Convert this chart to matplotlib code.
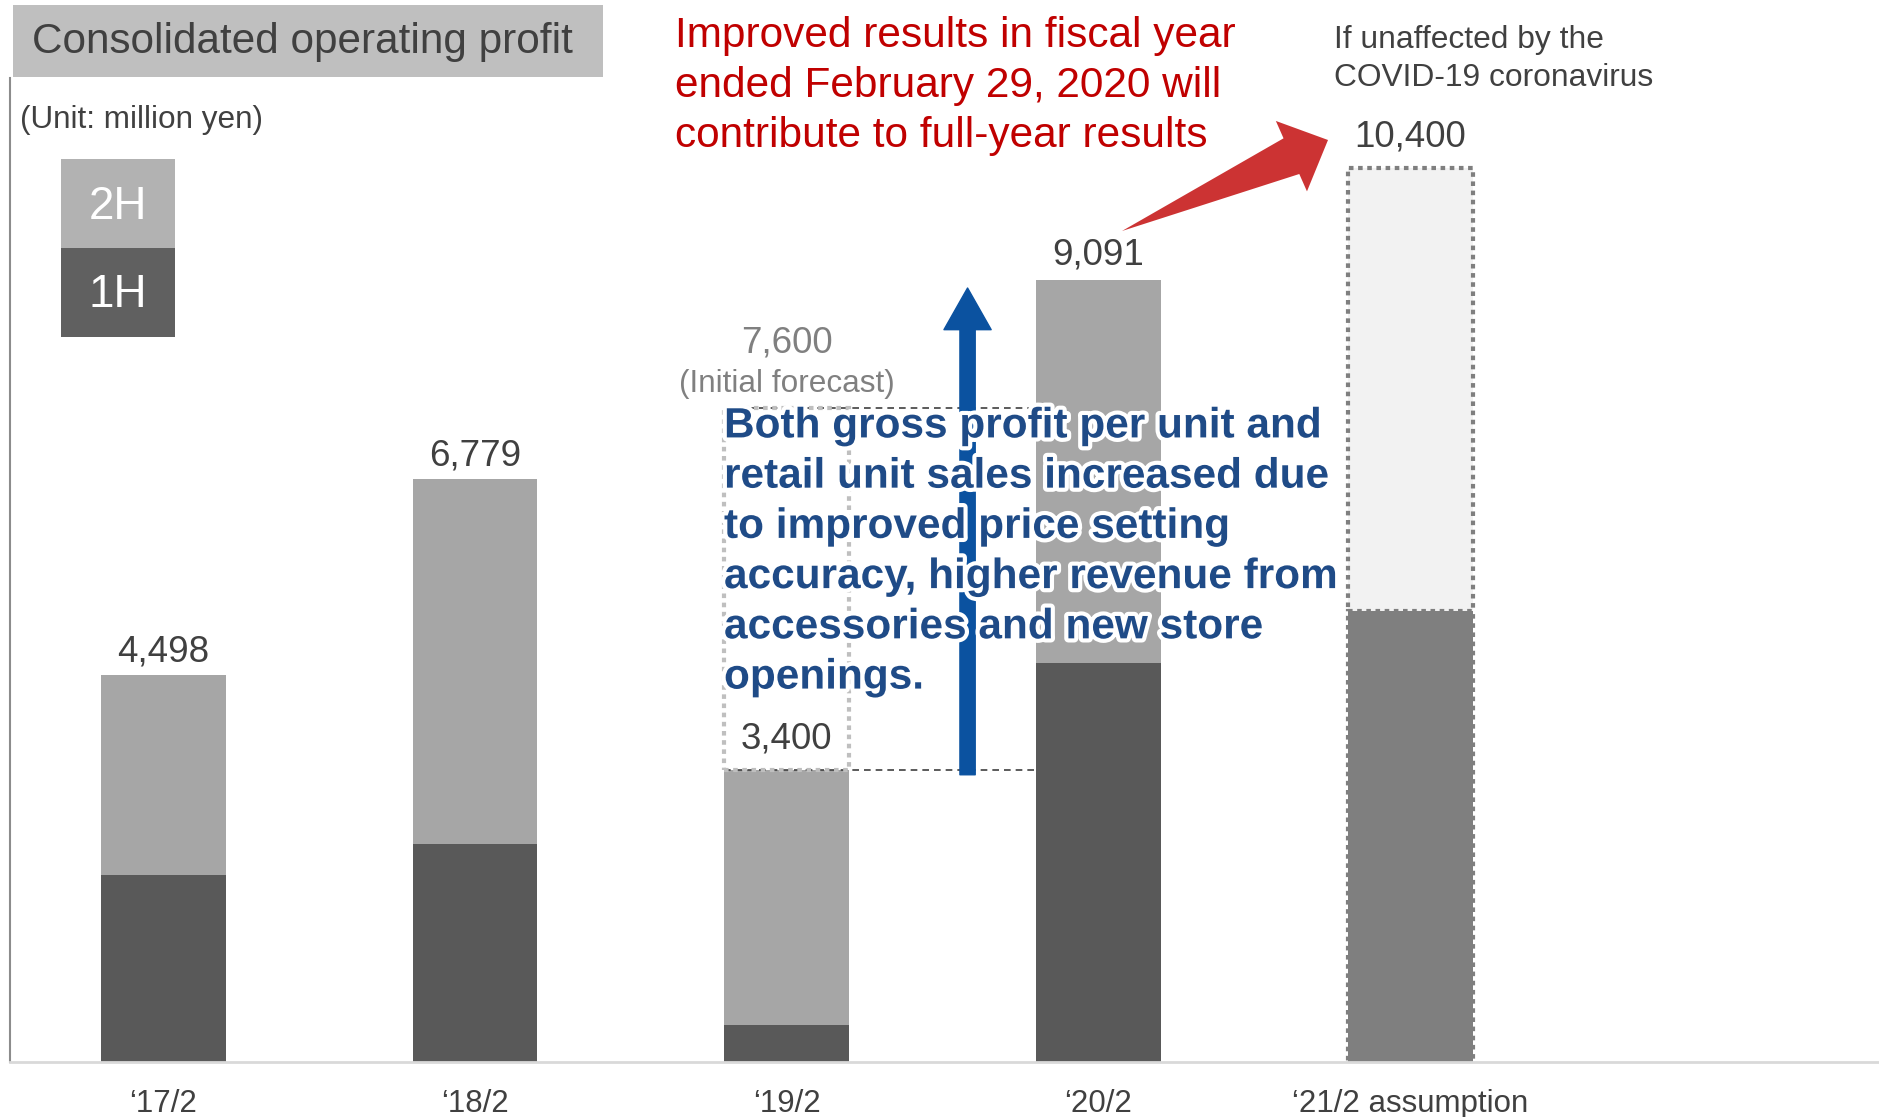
import numpy as np
import matplotlib.pyplot as plt
from matplotlib.patches import Rectangle, Polygon
import matplotlib.patheffects as pe

plt.rcParams['font.family'] = ['Liberation Sans', 'DejaVu Sans']

# consolidated operating profit, million yen
periods = ['\u201817/2', '\u201818/2', '\u201819/2', '\u201820/2', '\u201821/2 assumption']
full_year = [4498, 6779, 3400, 9091, 10400]
first_half = [2170, 2530, 430, 4640, 5240]
second_half = [f - h for f, h in zip(full_year, first_half)]
initial_forecast = 7600  # '19/2 initial forecast

W, H = 1879, 1117
TXT = '#404040'


def fp(x, y):
    # pixel position (from top-left) -> figure fraction
    return x / W, 1 - y / H


fig = plt.figure(figsize=(W / 100, H / 100), dpi=100)
ax = fig.add_axes([10 / W, 55 / H, 1869 / W, 984 / H])

x = np.arange(len(periods))
bw = 0.40
dots = (0, (1.1, 1.1))

# actual results
ax.bar(x[:4], first_half[:4], bw, color='#595959', zorder=2)
ax.bar(x[:4], second_half[:4], bw, bottom=first_half[:4], color='#a6a6a6', zorder=2)

# assumption for '21/2
ax.bar(x[4], first_half[4], bw, color='#7f7f7f', edgecolor='#7f7f7f',
       linewidth=3, linestyle=dots, zorder=2)
ax.bar(x[4], second_half[4], bw, bottom=first_half[4], color='#f2f2f2',
       edgecolor='#7f7f7f', linewidth=3, linestyle=dots, zorder=2)

# initial forecast box for '19/2
ax.bar(x[2], initial_forecast - full_year[2], bw, bottom=full_year[2], fill=False,
       edgecolor='#bfbfbf', linewidth=3, linestyle=dots, zorder=3)
ax.hlines([full_year[2], initial_forecast], x[2] - bw / 2, x[3] - bw / 2,
          colors='#404040', linestyles=(0, (4, 3)), linewidth=1.2, zorder=2)

ax.set_xlim(-0.492, 5.504)
ax.set_ylim(0, 11442)
for s in ['top', 'right']:
    ax.spines[s].set_visible(False)
ax.spines['left'].set_color('#8c8c8c')
ax.spines['left'].set_linewidth(1.5)
ax.spines['bottom'].set_color('#d9d9d9')
ax.spines['bottom'].set_linewidth(2)
ax.set_yticks([])
ax.set_xticks(x, periods)
ax.tick_params(axis='x', length=0, pad=19.5, labelsize=22.5, labelcolor=TXT)

# totals
offsets = [10, 10, 15, 11, 15.5]
for xi, v, off in zip(x, full_year, offsets):
    ax.annotate(f'{v:,}', (xi, v), xytext=(0, off), textcoords='offset points',
                ha='center', va='baseline', fontsize=26.5, color=TXT, zorder=5)
ax.annotate(f'{initial_forecast:,}', (x[2], initial_forecast), xytext=(0, 40),
            textcoords='offset points', ha='center', va='baseline',
            fontsize=26.5, color='#808080')
ax.annotate('(Initial forecast)', (x[2], initial_forecast), xytext=(0, 11.5),
            textcoords='offset points', ha='center', va='baseline',
            fontsize=22.7, color='#808080')

# blue arrow: from '19/2 result up to '20/2
ax.annotate('', xy=(2.58, 9000), xytext=(2.58, full_year[2] - 60),
            arrowprops=dict(arrowstyle='simple,head_length=30,head_width=34,tail_width=11',
                            mutation_scale=1, color='#0B52A0', shrinkA=0, shrinkB=0,
                            joinstyle='round', capstyle='round'),
            zorder=4)

# red arrow towards the assumption
tail = np.array([1122.0, 231.0])
tip = np.array([1328.0, 140.0])
u = (tip - tail) / np.linalg.norm(tip - tail)
n = np.array([-u[1], u[0]])
base = tip - u * 40
pts = [tail, base + n * 19.5, base + n * 38.5, tip, base - n * 38.5, base - n * 19.5]
fig.patches.append(Polygon([fp(*p) for p in pts], closed=True, transform=fig.transFigure,
                           facecolor='#CC3333', edgecolor='none'))

# title box
fig.patches.append(Rectangle(fp(13, 77), 590 / W, 72 / H, transform=fig.transFigure,
                             facecolor='#bfbfbf', edgecolor='none'))
fig.text(*fp(32, 42), 'Consolidated operating profit', fontsize=30.4, color=TXT,
         ha='left', va='center')
fig.text(*fp(20, 120), '(Unit: million yen)', fontsize=22.7, color=TXT,
         ha='left', va='center')

# legend boxes
fig.patches.append(Rectangle(fp(61, 248), 114 / W, 89 / H, transform=fig.transFigure,
                             facecolor='#b2b2b2', edgecolor='none'))
fig.patches.append(Rectangle(fp(61, 337), 114 / W, 89 / H, transform=fig.transFigure,
                             facecolor='#606060', edgecolor='none'))
fig.text(*fp(118, 207), '2H', fontsize=33, color='white', ha='center', va='center')
fig.text(*fp(118, 295), '1H', fontsize=33, color='white', ha='center', va='center')

fig.text(*fp(675, 86), 'Improved results in fiscal year\nended February 29, 2020 will\n'
         'contribute to full-year results', fontsize=30.5, color='#C00000',
         ha='left', va='center', linespacing=1.33)

fig.text(*fp(1334, 59), 'If unaffected by the\nCOVID-19 coronavirus', fontsize=22.9,
         color=TXT, ha='left', va='center', linespacing=1.33)

fig.text(*fp(724, 552), 'Both gross profit per unit and\nretail unit sales increased due\n'
         'to improved price setting\naccuracy, higher revenue from\n'
         'accessories and new store\nopenings.', fontsize=30.5, fontweight='bold',
         color='#1F4B87', ha='left', va='center', linespacing=1.33, zorder=6,
         path_effects=[pe.withStroke(linewidth=6, foreground='white')])

fig.savefig('out.png', dpi=100)
